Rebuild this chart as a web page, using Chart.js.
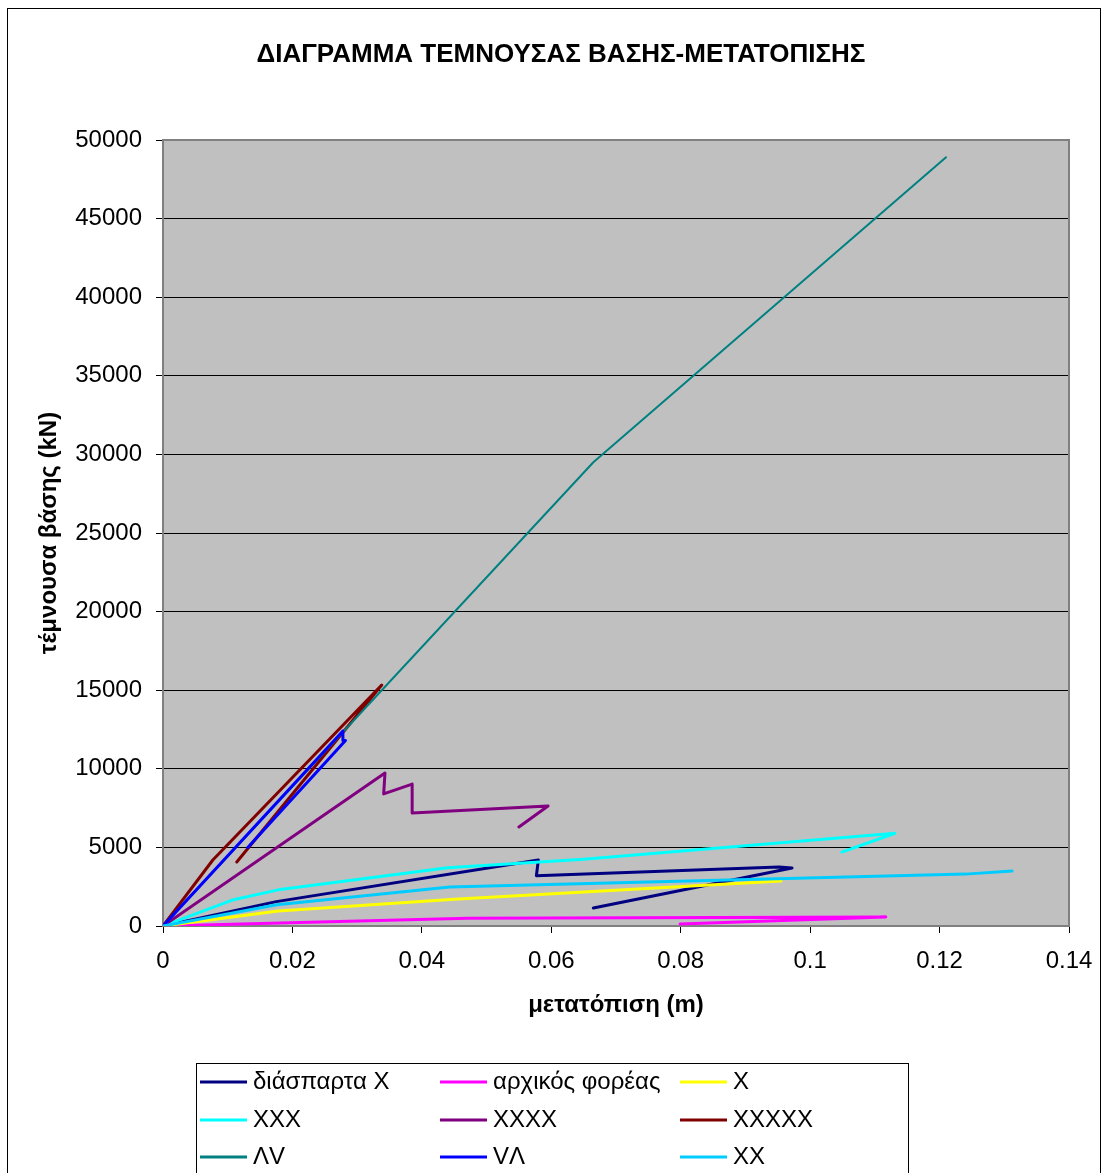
<!DOCTYPE html>
<html>
<head>
<meta charset="utf-8">
<script src="https://cdn.jsdelivr.net/npm/chart.js@4.4.0/dist/chart.umd.min.js"></script>
<style>
  body { margin: 0; background: #fff; }
  canvas { display: block; }
</style>
</head>
<body>
<canvas id="chart" width="1104" height="1173"></canvas>
<script>
// texts
const chartTitle = 'ΔΙΑΓΡΑΜΜΑ ΤΕΜΝΟΥΣΑΣ ΒΑΣΗΣ-ΜΕΤΑΤΟΠΙΣΗΣ';
const xTitle = 'μετατόπιση (m)';
const yTitle = 'τέμνουσα βάσης (kN)';

// axis ticks
const xTicks = [0, 0.02, 0.04, 0.06, 0.08, 0.1, 0.12, 0.14];
const yTicks = [0, 5000, 10000, 15000, 20000, 25000, 30000, 35000, 40000, 45000, 50000];

// series (displacement m, base shear kN)
const seriesNames = ['διάσπαρτα X', 'αρχικός φορέας', 'X', 'XXX', 'XXXX', 'XXXXX', 'ΛV', 'VΛ', 'XX'];
const seriesColors = ['#000080', '#FF00FF', '#FFFF00', '#00FFFF', '#800080', '#800000', '#008080', '#0000FF', '#00CCFF'];

const diasparta_x = [0, 0.0175, 0.058, 0.0577, 0.0952, 0.0972, 0.0665];
const diasparta_y = [0, 1550, 4200, 3200, 3750, 3690, 1150];

const arxikos_x = [0, 0.047, 0.1117, 0.0799];
const arxikos_y = [0, 500, 570, 130];

const x1_x = [0, 0.0178, 0.045, 0.0955];
const x1_y = [0, 950, 1700, 2870];

const x3_x = [0, 0.0107, 0.0178, 0.044, 0.065, 0.1131, 0.1049];
const x3_y = [0, 1650, 2300, 3700, 4250, 5900, 4700];

const x4_x = [0, 0.0343, 0.0341, 0.0385, 0.0385, 0.0595, 0.055];
const x4_y = [0, 9730, 8400, 9030, 7190, 7630, 6300];

const x5_x = [0, 0.0077, 0.0338, 0.0114];
const x5_y = [0, 4200, 15330, 4070];

const lv_x = [0, 0.0665, 0.121];
const lv_y = [0, 29500, 48900];

const vl_x = [0, 0.0278, 0.0278, 0.0282, 0.0131];
const vl_y = [0, 12400, 11800, 11800, 5000];

const x2_x = [0, 0.0176, 0.0443, 0.124, 0.1312];
const x2_y = [0, 1350, 2480, 3300, 3500];

const seriesX = [diasparta_x, arxikos_x, x1_x, x3_x, x4_x, x5_x, lv_x, vl_x, x2_x];
const seriesY = [diasparta_y, arxikos_y, x1_y, x3_y, x4_y, x5_y, lv_y, vl_y, x2_y];

const fam = '"Liberation Sans", Arial, sans-serif';

const datasets = seriesNames.map(function (name, i) {
    return {
        label: name,
        data: seriesX[i].map((x, k) => ({ x: x, y: seriesY[i][k] })),
        borderColor: seriesColors[i],
        backgroundColor: seriesColors[i],
        borderWidth: name === 'ΛV' ? 2 : 3,
        borderJoinStyle: 'round',
        borderCapStyle: 'round',
        pointRadius: 0,
        tension: 0,
        fill: false,
        showLine: true,
        order: seriesNames.length - i   // later series on top, like the original
    };
});

// background, frame, title and the 3-column legend
const decor = {
    id: 'decor',
    beforeDraw(chart) {
        const ctx = chart.ctx, a = chart.chartArea;
        ctx.save();
        ctx.fillStyle = '#fff';
        ctx.fillRect(0, 0, chart.width, chart.height);
        ctx.strokeStyle = '#000';
        ctx.lineWidth = 1;
        ctx.strokeRect(7.5, 8.5, 1093, 1200);
        ctx.fillStyle = '#C0C0C0';
        ctx.fillRect(a.left, a.top, a.right - a.left, a.bottom - a.top);
        ctx.fillStyle = '#000';
        ctx.font = 'bold 26px ' + fam;
        ctx.textAlign = 'center';
        ctx.textBaseline = 'middle';
        ctx.fillText(chartTitle, 561, 55);
        ctx.restore();
    },
    beforeDatasetsDraw(chart) {
        const ctx = chart.ctx, a = chart.chartArea;
        ctx.save();
        ctx.strokeStyle = '#808080';
        ctx.lineWidth = 2;
        ctx.strokeRect(a.left, a.top, a.right - a.left, a.bottom - a.top);
        ctx.restore();
    },
    afterDraw(chart) {
        const ctx = chart.ctx;
        const colX = [200, 440, 680];
        const rowY = [1082, 1120, 1157];
        ctx.save();
        ctx.strokeStyle = '#000';
        ctx.lineWidth = 1;
        ctx.strokeRect(196.5, 1063.5, 712, 200);
        ctx.font = '24px ' + fam;
        ctx.textAlign = 'left';
        ctx.textBaseline = 'middle';
        chart.data.datasets.forEach(function (ds, i) {
            const x = colX[i % 3], y = rowY[Math.floor(i / 3)];
            ctx.strokeStyle = ds.borderColor;
            ctx.lineWidth = 3;
            ctx.beginPath();
            ctx.moveTo(x, y);
            ctx.lineTo(x + 47, y);
            ctx.stroke();
            ctx.fillStyle = '#000';
            ctx.fillText(ds.label, x + 53, y);
        });
        ctx.restore();
    }
};

new Chart(document.getElementById('chart'), {
    type: 'scatter',
    data: { datasets: datasets },
    plugins: [decor],
    options: {
        responsive: false,
        animation: false,
        devicePixelRatio: 1,
        layout: { padding: { left: 0, top: 140, right: 35, bottom: 143 } },
        plugins: {
            legend: { display: false },
            title: { display: false },
            tooltip: { enabled: false }
        },
        scales: {
            x: {
                type: 'linear',
                min: 0,
                max: 0.14,
                afterBuildTicks: s => { s.ticks = xTicks.map(v => ({ value: v })); },
                afterFit: s => { s.height = 104; s.paddingLeft = 0; s.paddingRight = 0; },
                grid: { drawOnChartArea: false, drawTicks: true, tickLength: 7, tickColor: '#000' },
                border: { display: false },
                ticks: {
                    color: '#000', padding: 14, maxRotation: 0, autoSkip: false,
                    font: { size: 24, family: fam },
                    callback: v => String(+Number(v).toFixed(2))
                },
                title: {
                    display: true, text: xTitle, color: '#000',
                    font: { size: 24, weight: 'bold', family: fam },
                    padding: { top: 0, bottom: 10 }
                }
            },
            y: {
                type: 'linear',
                min: 0,
                max: 50000,
                afterBuildTicks: s => { s.ticks = yTicks.map(v => ({ value: v })); },
                afterFit: s => { s.width = 163; s.paddingTop = 0; s.paddingBottom = 0; },
                grid: { color: '#000', lineWidth: 1, drawTicks: true, tickLength: 7, tickColor: '#000' },
                border: { display: false },
                ticks: {
                    color: '#000', padding: 14,
                    font: { size: 24, family: fam },
                    callback: v => String(v)
                },
                title: {
                    display: true, text: yTitle, color: '#000',
                    font: { size: 24, weight: 'bold', family: fam },
                    padding: { top: 35, bottom: 0 }
                }
            }
        }
    }
});
</script>
</body>
</html>
